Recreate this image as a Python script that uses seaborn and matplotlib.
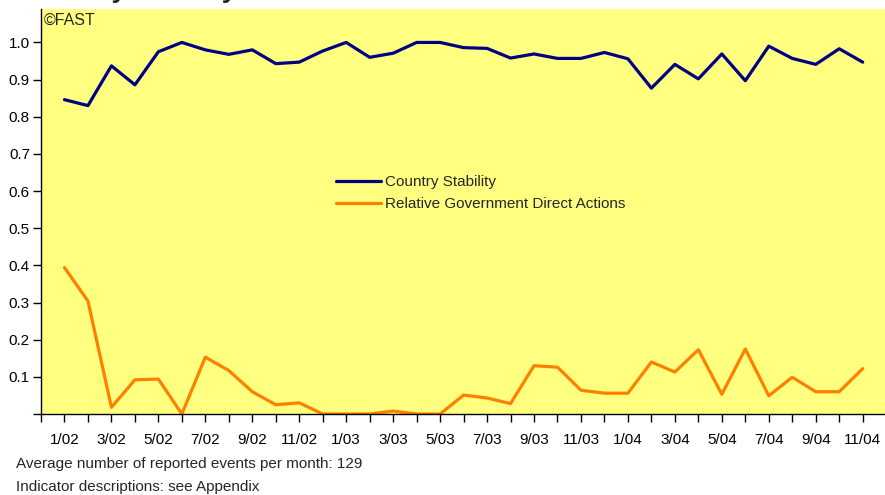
import pandas as pd
import numpy as np
import matplotlib
matplotlib.use('Agg')
import matplotlib.pyplot as plt
import seaborn as sns

# --- data: monthly, Jan 2002 .. Nov 2004 ---
months = [f"{m}/{y:02d}" for y in (2, 3, 4) for m in range(1, 13)][:35]
stability = [0.846, 0.830, 0.937, 0.886, 0.975, 1.000, 0.980, 0.968, 0.980, 0.943,
             0.947, 0.977, 1.000, 0.960, 0.971, 1.000, 1.000, 0.986, 0.984, 0.958,
             0.969, 0.957, 0.957, 0.973, 0.956, 0.877, 0.941, 0.902, 0.969, 0.897,
             0.990, 0.957, 0.941, 0.983, 0.947]
gov_actions = [0.394, 0.304, 0.018, 0.092, 0.094, 0.000, 0.153, 0.117, 0.060, 0.025,
               0.030, 0.000, 0.000, 0.000, 0.008, 0.000, 0.000, 0.051, 0.043, 0.028,
               0.130, 0.126, 0.064, 0.056, 0.056, 0.140, 0.113, 0.173, 0.053, 0.175,
               0.049, 0.099, 0.060, 0.060, 0.122]
series_names = ['Country Stability', 'Relative Government Direct Actions']
series_colors = ['#000080', '#FF8000']
y_ticks = [0.0, 0.1, 0.2, 0.3, 0.4, 0.5, 0.6, 0.7, 0.8, 0.9, 1.0]
y_labels = ['', '0.1', '0.2', '0.3', '0.4', '0.5', '0.6', '0.7', '0.8', '0.9', '1.0']
avg_events = 129

df = pd.DataFrame({
    'idx': list(range(len(months))) * 2,
    'value': stability + gov_actions,
    'series': [series_names[0]] * len(months) + [series_names[1]] * len(months),
})

# --- plot ---
sns.set_style('ticks')
plt.rcParams['font.family'] = ['Liberation Sans', 'DejaVu Sans']

fig = plt.figure(figsize=(8.85, 4.95), dpi=100)
ax = fig.add_axes([41 / 885, 1 - 414 / 495, 1 - 41 / 885, 405 / 495])
ax.set_facecolor('#FFFF80')

sns.lineplot(data=df, x='idx', y='value', hue='series', hue_order=series_names,
             palette=series_colors, linewidth=2.3, ax=ax)

ax.set_xlim(-1, 34.95)
ax.set_ylim(0, 1.09)
ax.set_xlabel('')
ax.set_ylabel('')

ax.set_xticks(range(-1, len(months)))
ax.set_xticklabels([''] + [m if i % 2 == 0 else '' for i, m in enumerate(months)])
ax.set_yticks(y_ticks)
ax.set_yticklabels(y_labels)
ax.tick_params(axis='x', direction='out', length=6, width=1, pad=8, labelsize=11, colors='black')
ax.tick_params(axis='y', direction='out', length=6, width=1, pad=2, labelsize=11, colors='black')

for side in ('top', 'right'):
    ax.spines[side].set_visible(False)
for side in ('left', 'bottom'):
    ax.spines[side].set_color('black')
    ax.spines[side].set_linewidth(1)

leg = ax.legend(loc='upper left', bbox_to_anchor=(0.35, 0.59), frameon=False,
                fontsize=11, handlelength=2.9, handletextpad=0.3, labelspacing=0.55,
                borderpad=0, borderaxespad=0)
for line in leg.get_lines():
    line.set_linewidth(2.3)

ax.text(0.003, 0.99, '\u00a9FAST', transform=ax.transAxes, fontsize=11.5, va='top', ha='left')

# title mostly cut off at the top edge, as in the source
fig.text(25 / 885, 1 + 2.5 / 495, 'Country Stability', fontsize=19, fontweight='bold',
         va='baseline', ha='left')

fig.text(16 / 885, 1 - 464 / 495, f'Average number of reported events per month: {avg_events}',
         fontsize=11, va='center', ha='left')
fig.text(16 / 885, 1 - 487 / 495, 'Indicator descriptions: see Appendix',
         fontsize=11, va='center', ha='left')

fig.savefig('out.png', dpi=100)
